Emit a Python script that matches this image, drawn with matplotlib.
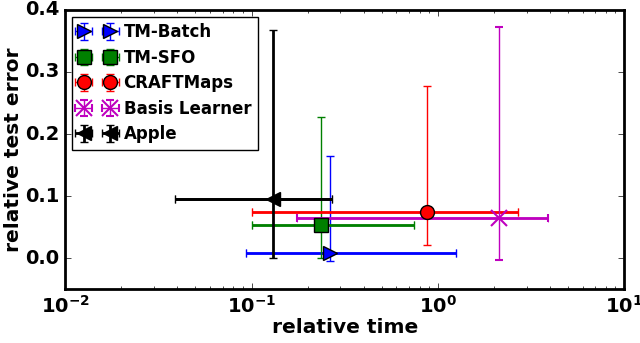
import numpy as np
import matplotlib
matplotlib.use('Agg')
import matplotlib.pyplot as plt

plt.style.use('classic')
plt.rcParams['font.weight'] = 'bold'
plt.rcParams['axes.labelweight'] = 'bold'

labels = ['TM-Batch', 'TM-SFO', 'CRAFTMaps', 'Basis Learner', 'Apple']
colors = ['b', 'g', 'r', 'm', 'k']
markers = ['>', 's', 'o', 'x', '<']

# centre of each method (relative time, relative test error)
t_mid = [0.265, 0.237, 0.88, 2.13, 0.13]
e_mid = [0.008, 0.053, 0.074, 0.064, 0.096]
# extents of the error bars
t_lo = [0.093, 0.100, 0.100, 0.175, 0.039]
t_hi = [1.25, 0.75, 2.70, 3.92, 0.27]
e_lo = [-0.004, 0.0, 0.021, -0.003, 0.0]
e_hi = [0.165, 0.227, 0.278, 0.372, 0.367]

fig = plt.figure(figsize=(6.4, 3.43), dpi=100)
ax = fig.add_axes([0.102, 0.157, 0.873, 0.814])
ax.set_xscale('log')

for i in range(len(labels)):
    x, y = t_mid[i], e_mid[i]
    xerr = [[x - t_lo[i]], [t_hi[i] - x]]
    yerr = [[y - e_lo[i]], [e_hi[i] - y]]
    vlw = 2 if colors[i] == 'k' else 1
    # thick horizontal bar
    ax.errorbar([x], [y], xerr=xerr, fmt='none', ecolor=colors[i],
                elinewidth=2, capsize=3)
    ms = 12 if markers[i] == 'x' else 10
    ax.errorbar([x], [y], xerr=xerr, yerr=yerr, fmt=markers[i],
                color=colors[i], ecolor=colors[i], elinewidth=vlw,
                capsize=3, markersize=ms, mew=1 if markers[i] != 'x' else 1.5,
                mec='k' if markers[i] != 'x' else colors[i],
                label=labels[i])

ax.set_xlim(1e-2, 1e1)
ax.set_ylim(-0.05, 0.4)
ax.set_yticks([0.0, 0.1, 0.2, 0.3, 0.4])
ax.tick_params(labelsize=14)
ax.set_xlabel('relative time', fontsize=14.5, labelpad=1)
ax.set_ylabel('relative test error', fontsize=14.5, labelpad=2)
for sp in ax.spines.values():
    sp.set_linewidth(2)

ax.legend(loc='upper left', fontsize=12, numpoints=2, borderaxespad=0.4,
          handlelength=2.2, labelspacing=0.45, handletextpad=0.5)

fig.savefig('out.png', dpi=100)
